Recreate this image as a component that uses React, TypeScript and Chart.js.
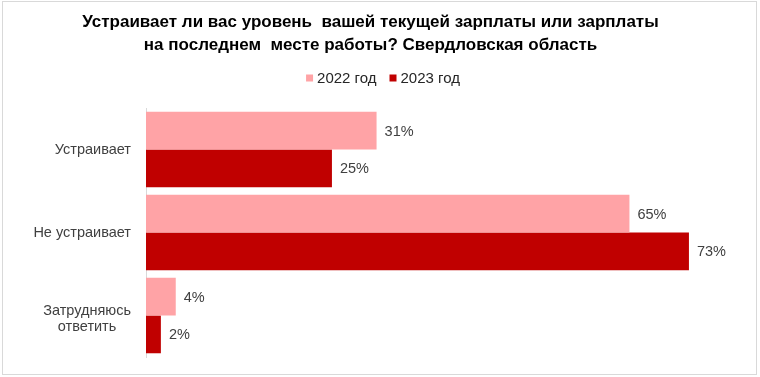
import React, { useEffect, useRef } from "react";
import { Chart, registerables } from "chart.js";

Chart.register(...registerables);

const titleLines = [
  "Устраивает ли вас уровень  вашей текущей зарплаты или зарплаты",
  "на последнем  месте работы? Свердловская область",
];
const categories: string[][] = [["Устраивает"], ["Не устраивает"], ["Затрудняюсь", "ответить"]];
const seriesNames = ["2022 год", "2023 год"];
const values2022 = [31, 65, 4];
const values2023 = [25, 73, 2];
const seriesColors = ["#FFA3A6", "#C00000"];
const xMax = 80;

const FONT = "'Liberation Sans', Arial, sans-serif";

const labelsPlugin = {
  id: "customLabels",
  afterDraw(chart: any) {
    const ctx = chart.ctx;
    ctx.save();
    // data labels
    ctx.font = `14.5px ${FONT}`;
    ctx.fillStyle = "#404040";
    ctx.textBaseline = "middle";
    ctx.textAlign = "left";
    chart.data.datasets.forEach((ds: any, di: number) => {
      const meta = chart.getDatasetMeta(di);
      meta.data.forEach((el: any, i: number) => {
        ctx.fillText(`${ds.data[i]}%`, el.x + 8, el.y + 1);
      });
    });
    // category labels
    const yScale = chart.scales.y;
    const right = chart.chartArea.left - 15;
    const lh = 16;
    categories.forEach((lines, i) => {
      const cy = yScale.getPixelForValue(i);
      const maxW = Math.max(...lines.map((l) => ctx.measureText(l).width));
      const startY = cy - ((lines.length - 1) * lh) / 2 + (lines.length > 1 ? 3 : 0);
      lines.forEach((line, li) => {
        if (lines.length === 1) {
          ctx.textAlign = "right";
          ctx.fillText(line, right, startY + li * lh);
        } else {
          ctx.textAlign = "center";
          ctx.fillText(line, right - maxW / 2, startY + li * lh);
        }
      });
    });
    // legend
    ctx.font = `15px ${FONT}`;
    ctx.textAlign = "left";
    const box = 7;
    const gapBoxText = 4;
    const gapItems = 13;
    const widths = seriesNames.map((n) => box + gapBoxText + ctx.measureText(n).width);
    const total = widths.reduce((a, b) => a + b, 0) + gapItems * (seriesNames.length - 1);
    let x = chart.width / 2 + 3 - total / 2;
    const ly = 78;
    seriesNames.forEach((n, i) => {
      ctx.fillStyle = seriesColors[i];
      ctx.fillRect(x, ly - box / 2, box, box);
      ctx.fillStyle = "#262626";
      ctx.fillText(n, x + box + gapBoxText, ly + 1);
      x += widths[i] + gapItems;
    });
    ctx.restore();
  },
};

export default function App() {
  const ref = useRef<HTMLCanvasElement | null>(null);
  useEffect(() => {
    if (!ref.current) return;
    const chart = new Chart(ref.current, {
      type: "bar",
      data: {
        labels: categories.map((c) => c.join(" ")),
        datasets: [
          {
            label: seriesNames[0],
            data: values2022,
            backgroundColor: seriesColors[0],
            categoryPercentage: 0.91,
            barPercentage: 1,
          },
          {
            label: seriesNames[1],
            data: values2023,
            backgroundColor: seriesColors[1],
            categoryPercentage: 0.91,
            barPercentage: 1,
          },
        ],
      },
      options: {
        indexAxis: "y",
        animation: false,
        responsive: true,
        maintainAspectRatio: false,
        layout: { padding: { left: 0, right: 19, bottom: 20, top: 0 } },
        plugins: {
          title: {
            display: true,
            text: titleLines,
            color: "#000000",
            font: { family: FONT, size: 17, weight: "bold", lineHeight: 1.353 },
            padding: { top: 11, bottom: 51 },
          },
          legend: { display: false },
          tooltip: { enabled: false },
        },
        scales: {
          x: { display: false, min: 0, max: xMax },
          y: {
            display: true,
            ticks: { display: false },
            grid: { display: false },
            border: { display: true, color: "#d9d9d9", width: 1 },
            afterFit: (s: any) => {
              s.width = 146;
            },
          },
        },
      },
      plugins: [labelsPlugin],
    });
    return () => chart.destroy();
  }, []);
  return (
    <div style={{ position: "absolute", left: 0, top: 0, width: 760, height: 377, background: "#fff" }}>
      <canvas ref={ref} style={{ position: "absolute", left: 0, top: 0 }} />
      <div
        style={{
          position: "absolute",
          left: 2,
          top: 1,
          width: 753,
          height: 372,
          border: "1px solid #d9d9d9",
          pointerEvents: "none",
        }}
      />
    </div>
  );
}
